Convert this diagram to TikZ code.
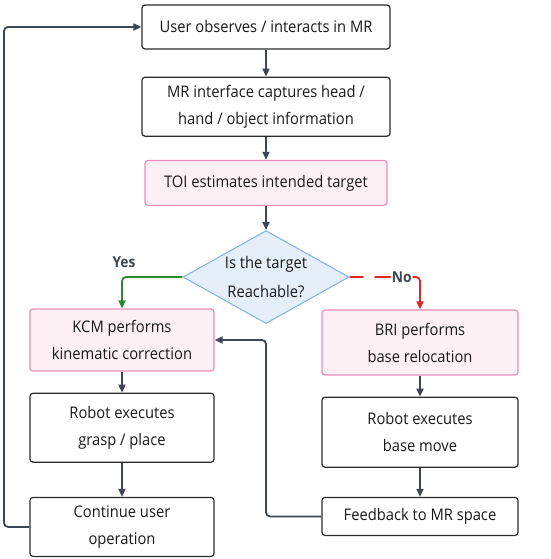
\documentclass[tikz,border=0pt]{standalone}
\usepackage{fontspec}
\setmainfont{Open Sans}[FakeStretch=0.92]
\usepackage{tikz}
\usetikzlibrary{arrows.meta,positioning,shapes.geometric}
\definecolor{ink}{HTML}{3D4651}
\definecolor{edge}{HTML}{2B2B2B}
\definecolor{pinkline}{HTML}{E88FB9}
\definecolor{pinkfill}{HTML}{FDF0F5}
\definecolor{bluefill}{HTML}{E5EFFA}
\definecolor{blueline}{HTML}{86B6E6}
\definecolor{yesgreen}{HTML}{2B8A2F}
\definecolor{nored}{HTML}{E52424}
\tikzset{
  plain/.style ={rounded corners=3pt,draw=edge,line width=1.2pt,fill=white,
                 inner sep=3pt,align=center,text=black!90},
  module/.style={plain,draw=pinkline,fill=pinkfill},
  decide/.style={diamond,aspect=1.8,draw=blueline,line width=1.1pt,fill=bluefill,
                 inner sep=0pt,align=center,minimum width=166pt,minimum height=93pt,
                 text=black!90,font=\fontsize{16}{29}\selectfont},
  flow/.style  ={-{Triangle[length=8pt,width=7pt]},line width=1.8pt,draw=ink,
                 rounded corners=4pt},
  yesflow/.style={flow,draw=yesgreen},
  noflow/.style={flow,draw=nored,dash pattern=on 14pt off 11pt on 200pt off 1pt},
  tag/.style   ={font=\fontsize{15}{18}\selectfont\bfseries,text=ink}
}

\begin{document}
\begin{tikzpicture}[font=\fontsize{16}{27}\selectfont]
        \useasboundingbox (0,0) rectangle (550pt,-559pt);
        % main column
        \node[plain,minimum width=248pt,minimum height=44pt] (observe) at (266pt,-27pt)
             {User observes / interacts in MR};
        \node[plain,below=27pt of observe,minimum width=248pt,minimum height=59pt] (capture)
             {MR interface captures head /\\hand / object information};
        \node[module,below=23pt of capture,minimum width=242pt,minimum height=45pt] (toi)
             {TOI estimates intended target};
        \node[decide,below=24pt of toi] (reach) {Is the target\\Reachable?};
        % two branches
        \node[module,minimum width=184pt,minimum height=62pt] (kcm) at (122pt,-340pt)
             {KCM performs\\kinematic correction};
        \node[module,minimum width=196pt,minimum height=65pt] (bri) at (420pt,-342.5pt)
             {BRI performs\\base relocation};
        \node[plain,below=21pt of kcm,minimum width=184pt,minimum height=69pt] (grasp)
             {Robot executes\\grasp / place};
        \node[plain,below=21pt of bri,minimum width=196pt,minimum height=70pt] (basemove)
             {Robot executes\\base move};
        \node[plain,below=34pt of grasp,minimum width=184pt,minimum height=59pt] (continue)
             {Continue user\\operation};
        \node[plain,below=29pt of basemove,minimum width=196pt,minimum height=38pt] (feedback)
             {Feedback to MR space};
        \coordinate (loopx) at (4pt,0);
        % connectors
        \draw[flow] (observe) -- (capture);
        \draw[flow] (capture) -- (toi);
        \draw[flow] (toi) -- (reach);
        \draw[yesflow] (reach.west) -| (kcm.north);
        \node[tag] (yes) at (124pt,-262pt) {Yes};
        \draw[noflow] (reach.east) -| node[pos=0.37,fill=white,inner sep=1pt,tag] (no) {No} (bri.north);
        \draw[flow] (kcm) -- (grasp);
        \draw[flow] (grasp) -- (continue);
        \draw[flow] (bri) -- (basemove);
        \draw[flow] (basemove) -- (feedback);
        \draw[flow] (feedback.west) -| (reach.south |- kcm.east) -- (kcm.east);
        \draw[flow] (continue.west) -- (continue.west -| loopx) |- (observe.west);
      \end{tikzpicture}
\end{document}
